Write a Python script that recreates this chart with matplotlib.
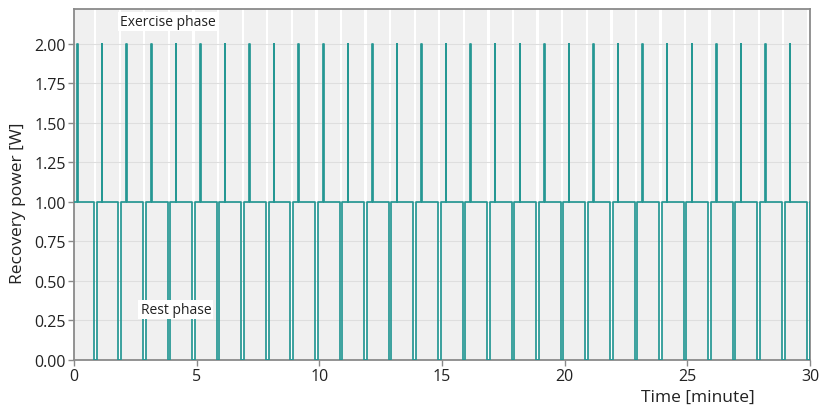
import matplotlib
matplotlib.use("Agg")
import matplotlib.pyplot as plt

plt.rcParams['font.family'] = ['Open Sans', 'DejaVu Sans']

# Data (minutes)
spike_times = [0.13, 1.13, 2.13, 3.14, 4.14, 5.14, 6.14, 7.14, 8.14, 9.15,
               10.15, 11.15, 12.15, 13.15, 14.15, 15.16, 16.16, 17.16, 18.16, 19.16,
               20.16, 21.17, 22.17, 23.17, 24.17, 25.17, 26.17, 27.18, 28.18, 29.18]
rest_starts = [0.81, 1.81, 2.81, 3.82, 4.82, 5.82, 6.82, 7.82, 8.82, 9.83,
               10.83, 11.83, 12.83, 13.83, 14.83, 15.84, 16.84, 17.84, 18.84, 19.84,
               20.84, 21.85, 22.85, 23.85, 24.85, 25.85, 26.85, 27.86, 28.86, 29.86]
rest_ends = [0.92, 1.92, 2.92, 3.93, 4.93, 5.93, 6.93, 7.93, 8.93, 9.94,
             10.94, 11.94, 12.94, 13.94, 14.94, 15.95, 16.95, 17.95, 18.95, 19.95,
             20.95, 21.96, 22.96, 23.96, 24.96, 25.96, 26.96, 27.97, 28.97, 30.0]
spike_width = 0.02
base_power = 1.0
spike_power = 2.0
rest_power = 0.0

# Build step series
t = [0.0]
p = [base_power]
for s, r0, r1 in zip(spike_times, rest_starts, rest_ends):
    t += [s, s, s + spike_width, s + spike_width, r0, r0, r1, r1]
    p += [base_power, spike_power, spike_power, base_power, base_power, rest_power, rest_power, base_power]

fig = plt.figure(figsize=(8.23, 4.10), dpi=100)
ax = fig.add_axes([74/823, 1 - 361/410, (810 - 74)/823, (361 - 10)/410])
ax.set_facecolor('#f0f0f0')

for r0, r1 in zip(rest_starts, rest_ends):
    ax.axvspan(r0 + 0.01, r1 - 0.01, color='white', lw=0, zorder=0.5)

ax.grid(axis='y', color='#dedede', lw=0.8, zorder=0.8)
ax.grid(axis='x', visible=False)
ax.set_axisbelow(True)

ax.plot(t, p, color='#259793', lw=1.25, zorder=3)

ax.set_xlim(0, 30)
ax.set_ylim(0, 2.22)
ax.set_xticks([0, 5, 10, 15, 20, 25, 30])
ax.set_yticks([0, 0.25, 0.5, 0.75, 1.0, 1.25, 1.5, 1.75, 2.0])
ax.set_yticklabels(['0.00', '0.25', '0.50', '0.75', '1.00', '1.25', '1.50', '1.75', '2.00'])

for sp in ax.spines.values():
    sp.set_color('#8a8a8a')
    sp.set_linewidth(1.3)
ax.tick_params(axis='both', colors='#8a8a8a', labelcolor='#222222', labelsize=11.5,
               length=4, width=1.0, pad=2)

ax.set_ylabel('Recovery power [W]', fontsize=12.5, color='#222222', labelpad=6)
ax.yaxis.label.set_y(0.45)
ax.set_xlabel('Time [minute]', fontsize=12.5, color='#222222', labelpad=3)
ax.xaxis.label.set_x((698 - 74) / 736)

bbox = dict(facecolor='white', edgecolor='none', pad=1.5)
ax.text(3.83, 2.14, 'Exercise phase', ha='center', va='center', fontsize=10,
        color='#222222', bbox=bbox, zorder=4)
ax.text(4.15, 0.32, 'Rest phase', ha='center', va='center', fontsize=10,
        color='#222222', bbox=bbox, zorder=4)

fig.savefig('out.png', dpi=100)
